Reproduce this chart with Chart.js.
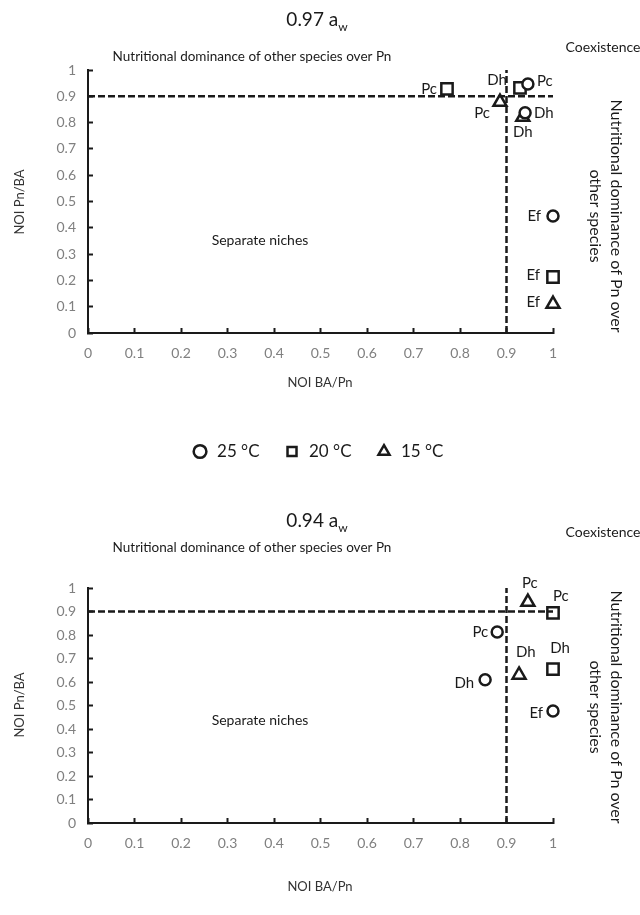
<!DOCTYPE html>
<html>
<head>
<meta charset="utf-8">
<script src="https://cdn.jsdelivr.net/npm/chart.js@4.4.1/dist/chart.umd.min.js"></script>
<style>
    body { margin: 0; background: #fff; width: 640px; height: 915px; position: relative; overflow: hidden; }
    canvas { position: absolute; left: 0; }
    #grafico97 { top: 0; }
    #grafico94 { top: 470px; }
</style>
</head>
<body>
<canvas id="grafico97" width="640" height="470"></canvas>
<canvas id="grafico94" width="640" height="445"></canvas>
<script>
// Datos
const temperaturas = ['25 °C', '20 °C', '15 °C'];
const ticksEje = ['0', '0.1', '0.2', '0.3', '0.4', '0.5', '0.6', '0.7', '0.8', '0.9', '1'];
const umbral = 0.9;

// 0.97 aw
const aw97_25_sp = ['Pc', 'Dh', 'Ef'];
const aw97_25_x = [0.946, 0.94, 1.0];
const aw97_25_y = [0.947, 0.837, 0.445];
const aw97_20_sp = ['Pc', 'Dh', 'Ef'];
const aw97_20_x = [0.772, 0.929, 1.0];
const aw97_20_y = [0.928, 0.932, 0.213];
const aw97_15_sp = ['Pc', 'Dh', 'Ef'];
const aw97_15_x = [0.886, 0.935, 1.0];
const aw97_15_y = [0.878, 0.821, 0.11];

// 0.94 aw
const aw94_25_sp = ['Pc', 'Dh', 'Ef'];
const aw94_25_x = [0.88, 0.854, 1.0];
const aw94_25_y = [0.813, 0.61, 0.477];
const aw94_20_sp = ['Pc', 'Dh'];
const aw94_20_x = [1.0, 1.0];
const aw94_20_y = [0.894, 0.655];
const aw94_15_sp = ['Pc', 'Dh'];
const aw94_15_x = [0.946, 0.927];
const aw94_15_y = [0.94, 0.63];

const FUENTE = 'Lato, "Open Sans", sans-serif';
const NEGRO = '#1a1a1a';

// Posicion de las etiquetas de especie: [dx, dy, alineacion]
const pos97_25 = [[9, -3, 'left'], [9, 0, 'left'], [-12, 0, 'right']];
const pos97_20 = [[-10, 0, 'right'], [-13, -8, 'right'], [-13, -2, 'right']];
const pos97_15 = [[-10, 11, 'right'], [0, 15, 'center'], [-13, -2, 'right']];
const pos94_25 = [[-9, 0, 'right'], [-11, 4, 'right'], [-10, 2, 'right']];
const pos94_20 = [[0, -17, 'left'], [7, -21, 'center']];
const pos94_15 = [[2, -19, 'center'], [-3, -23, 'left']];

function serie(xs, ys, especies, estilo, radio, etiqueta, pos) {
    return {
        label: etiqueta,
        data: xs.map((x, i) => ({ x: x, y: ys[i] })),
        especies: especies,
        posEtiquetas: pos,
        pointStyle: estilo,
        pointRadius: radio,
        backgroundColor: '#fff',
        borderColor: NEGRO,
        borderWidth: 2.5,
        showLine: false,
        clip: false,
        order: 1
    };
}

function lineaUmbral(xs, ys) {
    return {
        label: 'umbral',
        data: xs.map((x, i) => ({ x: x, y: ys[i] })),
        showLine: true,
        borderColor: NEGRO,
        borderWidth: 2.5,
        borderDash: [7, 3],
        pointRadius: 0,
        fill: false,
        clip: false,
        order: 0
    };
}

// Textos libres (titulos, regiones, ejes)
const textosPlugin = {
    id: 'textos',
    afterLayout(chart, args, opts) {
        // desplazar la leyenda para centrarla en la pagina
        if (opts.desplazarLeyenda && chart.legend) {
            chart.legend.left += opts.desplazarLeyenda;
            chart.legend.right += opts.desplazarLeyenda;
        }
    },
    afterDraw(chart, args, opts) {
        const ctx = chart.ctx;
        (opts.items || []).forEach(t => {
            const size = t.size || 14;
            ctx.save();
            ctx.fillStyle = t.color || NEGRO;
            ctx.textBaseline = 'middle';
            ctx.translate(t.x, t.y);
            if (t.rot) ctx.rotate(t.rot * Math.PI / 180);
            ctx.font = size + 'px ' + FUENTE;
            if (t.sub) {
                const w1 = ctx.measureText(t.text).width;
                ctx.font = Math.round(size * 0.65) + 'px ' + FUENTE;
                const w2 = ctx.measureText(t.sub).width;
                ctx.textAlign = 'left';
                ctx.fillText(t.sub, -(w1 + w2) / 2 + w1, size * 0.35);
                ctx.font = size + 'px ' + FUENTE;
                ctx.fillText(t.text, -(w1 + w2) / 2, 0);
            } else {
                ctx.textAlign = 'center';
                ctx.fillText(t.text, 0, 0);
            }
            ctx.restore();
        });
    }
};

// Etiquetas de especie junto a cada marcador
const etiquetasPlugin = {
    id: 'etiquetas',
    afterDatasetsDraw(chart) {
        const ctx = chart.ctx;
        chart.data.datasets.forEach((ds, i) => {
            if (!ds.especies) return;
            const meta = chart.getDatasetMeta(i);
            ctx.save();
            ctx.font = '15px ' + FUENTE;
            ctx.fillStyle = NEGRO;
            ctx.textBaseline = 'middle';
            meta.data.forEach((pt, j) => {
                const p = ds.posEtiquetas[j];
                ctx.textAlign = p[2];
                ctx.fillText(ds.especies[j], pt.x + p[0], pt.y + p[1]);
            });
            ctx.restore();
        });
    }
};

function escalas(altoX) {
    const ticksComunes = {
        stepSize: 0.1,
        autoSkip: false,
        maxRotation: 0,
        color: '#808080',
        font: { family: FUENTE, size: 14 },
        callback: (v, i) => ticksEje[i]
    };
    const rejilla = { drawOnChartArea: false, drawTicks: true, tickLength: -5, tickColor: NEGRO, tickWidth: 2 };
    return {
        x: {
            type: 'linear', min: 0, max: 1,
            ticks: Object.assign({}, ticksComunes, { padding: 17 }),
            grid: rejilla,
            border: { color: NEGRO, width: 2 },
            afterFit: s => { s.height = altoX; }
        },
        y: {
            type: 'linear', min: 0, max: 1,
            ticks: Object.assign({}, ticksComunes, { padding: 17 }),
            grid: rejilla,
            border: { color: NEGRO, width: 2 },
            afterFit: s => { s.width = 88; }
        }
    };
}

function textosPanel(aw, dy) {
    return [
        { text: aw + ' a', sub: 'w', x: 317, y: dy.titulo, size: 19 },
        { text: 'Nutritional dominance of other species over Pn', x: 252, y: dy.dominio, size: 13.5 },
        { text: 'Coexistence', x: 603, y: dy.coex, size: 14 },
        { text: 'Separate niches', x: 260, y: dy.separados, size: 14 },
        { text: 'NOI Pn/BA', x: 20, y: dy.centro, size: 13, rot: -90, color: '#333' },
        { text: 'NOI BA/Pn', x: 320, y: dy.ejeX, size: 13, color: '#333' },
        { text: 'Nutritional dominance of Pn over', x: 616, y: dy.centroDer, size: 16, rot: 90 },
        { text: 'other species', x: 595, y: dy.centroDer, size: 16, rot: 90 }
    ];
}

function crearGrafico(idCanvas, datasets, opciones) {
    const ctx = document.getElementById(idCanvas).getContext('2d');
    return new Chart(ctx, {
        type: 'scatter',
        data: { datasets: datasets },
        options: {
            responsive: false,
            animation: false,
            events: [],
            layout: { padding: opciones.padding },
            scales: escalas(opciones.altoX),
            plugins: {
                legend: opciones.leyenda,
                tooltip: { enabled: false },
                textos: { items: opciones.textos, desplazarLeyenda: opciones.desplazarLeyenda || 0 }
            }
        },
        plugins: [textosPlugin, etiquetasPlugin]
    });
}

document.addEventListener('DOMContentLoaded', function() {
    // Grafico superior 0.97 aw (con leyenda)
    crearGrafico('grafico97', [
        serie(aw97_25_x, aw97_25_y, aw97_25_sp, 'circle', 5.5, temperaturas[0], pos97_25),
        serie(aw97_20_x, aw97_20_y, aw97_20_sp, 'rect', 8, temperaturas[1], pos97_20),
        serie(aw97_15_x, aw97_15_y, aw97_15_sp, 'triangle', 7.5, temperaturas[2], pos97_15),
        lineaUmbral([0, 1], [umbral, umbral]),
        lineaUmbral([umbral, umbral], [0, 1])
    ], {
        padding: { top: 70, right: 87, left: 0, bottom: 0 },
        altoX: 86,
        desplazarLeyenda: 41,
        leyenda: {
            display: true,
            position: 'bottom',
            labels: {
                usePointStyle: true,
                boxHeight: 9,
                padding: 24,
                color: NEGRO,
                font: { family: FUENTE, size: 17 },
                filter: item => item.text !== 'umbral'
            }
        },
        textos: textosPanel('0.97', { titulo: 20, dominio: 57, coex: 47, separados: 240, centro: 202, ejeX: 383, centroDer: 216 })
    });

    // Grafico inferior 0.94 aw
    crearGrafico('grafico94', [
        serie(aw94_25_x, aw94_25_y, aw94_25_sp, 'circle', 5.5, temperaturas[0], pos94_25),
        serie(aw94_20_x, aw94_20_y, aw94_20_sp, 'rect', 8, temperaturas[1], pos94_20),
        serie(aw94_15_x, aw94_15_y, aw94_15_sp, 'triangle', 7.5, temperaturas[2], pos94_15),
        lineaUmbral([0, 1], [umbral, umbral]),
        lineaUmbral([umbral, umbral], [0, 1])
    ], {
        padding: { top: 118, right: 87, left: 0, bottom: 0 },
        altoX: 92,
        leyenda: { display: false },
        textos: textosPanel('0.94', { titulo: 51, dominio: 78, coex: 62, separados: 250, centro: 235, ejeX: 417, centroDer: 237 })
    });
});
</script>
</body>
</html>
